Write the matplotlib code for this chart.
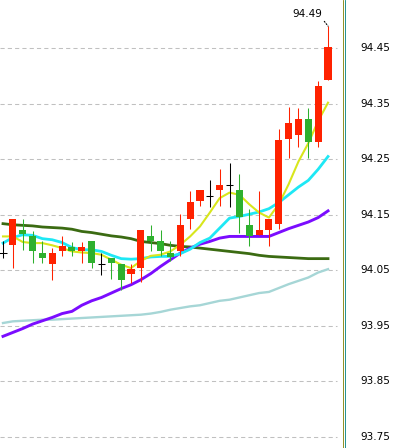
import numpy as np
from matplotlib import pyplot as plt
from matplotlib.lines import Line2D

# candle data (red = up, green = down, black = doji)
opens = [94.081, 94.095, 94.123, 94.112, 94.082, 94.061, 94.084, 94.092, 94.084, 94.103,
         94.061, 94.072, 94.061, 94.043, 94.055, 94.112, 94.103, 94.082, 94.084, 94.143,
         94.175, 94.183, 94.195, 94.203, 94.194, 94.132, 94.114, 94.123, 94.134, 94.286,
         94.294, 94.322, 94.282, 94.392]
highs = [94.102, 94.143, 94.143, 94.121, 94.102, 94.091, 94.112, 94.101, 94.101, 94.103,
         94.081, 94.072, 94.061, 94.061, 94.123, 94.132, 94.123, 94.102, 94.152, 94.192,
         94.194, 94.212, 94.232, 94.243, 94.223, 94.161, 94.193, 94.143, 94.305, 94.344,
         94.342, 94.342, 94.391, 94.49]
lows = [94.073, 94.055, 94.086, 94.064, 94.064, 94.032, 94.075, 94.075, 94.064, 94.055,
        94.041, 94.034, 94.014, 94.027, 94.029, 94.084, 94.075, 94.066, 94.075, 94.125,
        94.166, 94.164, 94.166, 94.164, 94.117, 94.093, 94.114, 94.094, 94.125, 94.253,
        94.273, 94.253, 94.273, 94.392]
closes = [94.081, 94.143, 94.115, 94.084, 94.073, 94.082, 94.093, 94.084, 94.092, 94.064,
          94.061, 94.064, 94.032, 94.052, 94.123, 94.103, 94.084, 94.074, 94.132, 94.173,
          94.194, 94.183, 94.203, 94.203, 94.146, 94.112, 94.123, 94.143, 94.285, 94.315,
          94.322, 94.282, 94.382, 94.452]

# moving averages
ma5 = [94.111, 94.111, 94.101, 94.099, 94.099, 94.095, 94.090, 94.084, 94.082, 94.081,
       94.078, 94.069, 94.060, 94.054, 94.067, 94.076, 94.078, 94.084, 94.096, 94.111,
       94.129, 94.154, 94.180, 94.190, 94.186, 94.169, 94.154, 94.145, 94.169, 94.205,
       94.246, 94.279, 94.319, 94.352]
ma10 = [94.099, 94.109, 94.114, 94.113, 94.107, 94.105, 94.100, 94.091, 94.087, 94.087,
        94.084, 94.077, 94.071, 94.070, 94.071, 94.074, 94.075, 94.075, 94.080, 94.088,
        94.100, 94.108, 94.126, 94.144, 94.147, 94.151, 94.155, 94.161, 94.172, 94.186,
        94.200, 94.212, 94.232, 94.255]
ma20 = [93.931, 93.938, 93.945, 93.953, 93.959, 93.965, 93.972, 93.976, 93.987, 93.995,
        94.001, 94.009, 94.017, 94.024, 94.033, 94.044, 94.057, 94.069, 94.081, 94.090,
        94.097, 94.102, 94.108, 94.111, 94.111, 94.111, 94.111, 94.111, 94.118, 94.125,
        94.131, 94.137, 94.145, 94.157]
ma30 = [94.134, 94.132, 94.131, 94.130, 94.128, 94.127, 94.126, 94.124, 94.120, 94.118,
        94.115, 94.112, 94.110, 94.107, 94.102, 94.100, 94.098, 94.095, 94.093, 94.092,
        94.090, 94.088, 94.086, 94.084, 94.082, 94.080, 94.077, 94.075, 94.074, 94.073,
        94.072, 94.071, 94.071, 94.071]
ma60 = [93.955, 93.958, 93.959, 93.960, 93.961, 93.961, 93.962, 93.963, 93.964, 93.965,
        93.966, 93.967, 93.968, 93.969, 93.970, 93.972, 93.975, 93.979, 93.982, 93.985,
        93.987, 93.991, 93.995, 93.997, 94.001, 94.005, 94.009, 94.011, 94.018, 94.025,
        94.031, 94.037, 94.046, 94.052]

yticks = [94.45, 94.35, 94.25, 94.15, 94.05, 93.95, 93.85, 93.75]

red = '#ff2200'
green = '#2eb02e'

fig = plt.figure(figsize=(3.93, 4.48), dpi=100)
ax = fig.add_axes([0, 0, 342 / 393, 1])
for s in ax.spines.values():
    s.set_visible(False)
ax.set_xticks([])
ax.set_yticks([])
ax.set_xlim(-0.305, 34.42)
ax.set_ylim(93.7298, 94.537)

# grid
for v in yticks:
    ln = ax.hlines(v, -0.305, 33.9, colors='#c0c0c0', lw=0.75, zorder=1)
    ln.set_linestyle((0, (4, 3)))

x = np.arange(len(opens))

# moving average lines
ax.plot(x, ma60, color='#a6d6d6', lw=1.7, zorder=2)
ax.plot(x, ma30, color='#3b6b12', lw=2.0, zorder=2)
ax.plot(x, ma20, color='#7b0cff', lw=2.1, zorder=2)
ax.plot(x, ma10, color='#1ee8f5', lw=2.0, zorder=2)
ax.plot(x, ma5, color='#d8e61c', lw=1.5, zorder=2)

# candles
for i in range(len(opens)):
    o, h, l, c = opens[i], highs[i], lows[i], closes[i]
    if c > o:
        col = red
    elif c < o:
        col = green
    else:
        col = 'black'
    ax.vlines(i, l, h, colors=col, lw=0.75, zorder=3)
    if col == 'black':
        ax.hlines(o, i - 0.36, i + 0.36, colors=col, lw=0.75, zorder=4)
    else:
        ax.bar(i, abs(c - o), bottom=min(o, c), width=0.72, color=col, lw=0, zorder=4)

# max label
imax = int(np.argmax(highs))
ax.annotate(f"{highs[imax]:.2f}", xy=(imax, highs[imax]), xytext=(-15, 9),
            textcoords='offset points', ha='center', va='center', fontsize=7.5,
            arrowprops=dict(arrowstyle='-', ls=':', lw=0.8, color='black',
                            relpos=(1, 0), shrinkA=0, shrinkB=0))

# right axis labels
for v in yticks:
    ax.text(375 / 342, v, f"{v:.2f}", transform=ax.get_yaxis_transform(),
            ha='center', va='center', fontsize=7.5, clip_on=False)

fig.add_artist(Line2D([342.5 / 393] * 2, [0, 1], color='#808000', lw=0.6))
fig.add_artist(Line2D([344.5 / 393] * 2, [0, 1], color='#008080', lw=0.6))

plt.savefig('out.png', dpi=100)
